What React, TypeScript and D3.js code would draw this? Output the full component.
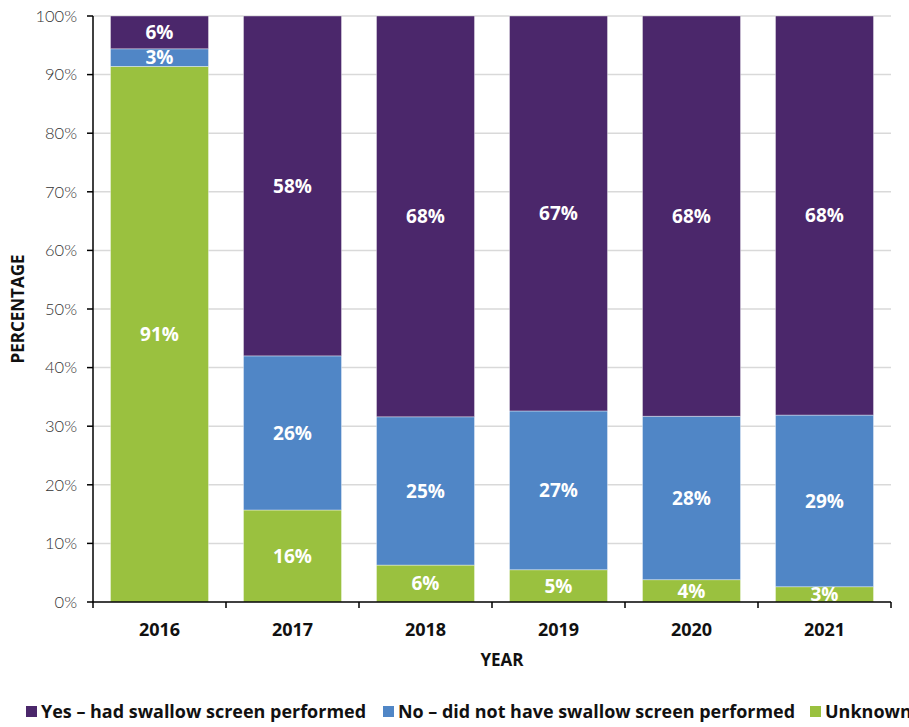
import React from "react";
import * as d3 from "d3";

const years = ["2016", "2017", "2018", "2019", "2020", "2021"];
const unknownVals = [91.4, 15.7, 6.3, 5.5, 3.8, 2.6];
const noVals = [3.0, 26.3, 25.3, 27.1, 27.9, 29.3];
const yesVals = [5.6, 58.0, 68.4, 67.4, 68.3, 68.1];
const unknownLabels = ["91%", "16%", "6%", "5%", "4%", "3%"];
const noLabels = ["3%", "26%", "25%", "27%", "28%", "29%"];
const yesLabels = ["6%", "58%", "68%", "67%", "68%", "68%"];
const yTicks = [0, 10, 20, 30, 40, 50, 60, 70, 80, 90, 100];
const seriesNames = [
  "Yes – had swallow screen performed",
  "No – did not have swallow screen performed",
  "Unknown",
];
const colors = { yes: "#4B276B", no: "#5086C6", unknown: "#9AC13F" };

export default function App() {
  const W = 909, H = 727;
  const left = 93, right = 891, top = 16, bottom = 602;
  const x = d3.scaleBand().domain(years).range([left, right]).paddingInner(0.263).paddingOuter(0.1315);
  const y = d3.scaleLinear().domain([0, 100]).range([bottom, top]);
  const boldFont = "'Open Sans', Lato, sans-serif";
  const lightFont = "Lato, 'Open Sans', sans-serif";

  const rows = years.map((yr, i) => ({
    yr,
    segs: [
      { key: "unknown", v: unknownVals[i], label: unknownLabels[i] },
      { key: "no", v: noVals[i], label: noLabels[i] },
      { key: "yes", v: yesVals[i], label: yesLabels[i] },
    ],
  }));

  const legendItems = [
    { name: seriesNames[0], color: colors.yes, x: 26, len: 325 },
    { name: seriesNames[1], color: colors.no, x: 383, len: 397 },
    { name: seriesNames[2], color: colors.unknown, x: 810, len: 0 },
  ];

  return (
    <svg width={W} height={H} style={{ position: "absolute", left: 0, top: 0 }} fontFamily={boldFont}>
      {yTicks.map((t) => (
        <g key={t}>
          {t > 0 && <line x1={left} x2={right} y1={y(t)} y2={y(t)} stroke="#d9d9d9" strokeWidth={1.5} />}
          <line x1={left - 6} x2={left} y1={y(t)} y2={y(t)} stroke="#000" strokeWidth={1.5} />
          <text x={77} y={y(t)} dy="0.35em" textAnchor="end" fontSize={16.5} fontWeight={300} fontFamily={lightFont} fill="#333">{t}%</text>
        </g>
      ))}
      {rows.map((r) => {
        let acc = 0;
        return (
          <g key={r.yr}>
            {r.segs.map((s) => {
              const y0 = acc, y1 = acc + s.v;
              acc = y1;
              return (
                <g key={s.key}>
                  <rect x={x(r.yr)} width={x.bandwidth()} y={y(y1)} height={y(y0) - y(y1)} fill={(colors as any)[s.key]} stroke="#ffffff" strokeOpacity={0.5} strokeWidth={0.75} />
                  <text x={(x(r.yr) as number) + x.bandwidth() / 2} y={(y(y0) + y(y1)) / 2} dy="0.36em" textAnchor="middle" fill="#fff" fontWeight={700} fontSize={19}>{s.label}</text>
                </g>
              );
            })}
          </g>
        );
      })}
      <line x1={left} x2={left} y1={top} y2={bottom} stroke="#000" strokeWidth={1.5} />
      <line x1={left} x2={right} y1={bottom} y2={bottom} stroke="#000" strokeWidth={1.5} />
      {d3.range(years.length + 1).map((i) => {
        const xx = left + i * x.step();
        return <line key={i} x1={xx} x2={xx} y1={bottom} y2={bottom + 6} stroke="#000" strokeWidth={1.5} />;
      })}
      {years.map((yr) => (
        <text key={yr} x={(x(yr) as number) + x.bandwidth() / 2} y={630} dy="0.35em" textAnchor="middle" fontWeight={700} fontSize={18} fill="#111">{yr}</text>
      ))}
      <text x={502} y={660} dy="0.35em" textAnchor="middle" fontWeight={700} fontSize={17} fill="#111">YEAR</text>
      <text transform={`translate(18,${(top + bottom) / 2}) rotate(-90)`} dy="0.35em" textAnchor="middle" fontWeight={700} fontSize={17} fill="#111">PERCENTAGE</text>
      {legendItems.map((l) => (
        <g key={l.name}>
          <rect x={l.x} y={706} width={11} height={11} fill={l.color} />
          <text x={l.x + 15} y={712} dy="0.36em" fontWeight={700} fontSize={18} fill="#111" {...(l.len ? { textLength: l.len, lengthAdjust: "spacingAndGlyphs" } : {})}>{l.name}</text>
        </g>
      ))}
    </svg>
  );
}
